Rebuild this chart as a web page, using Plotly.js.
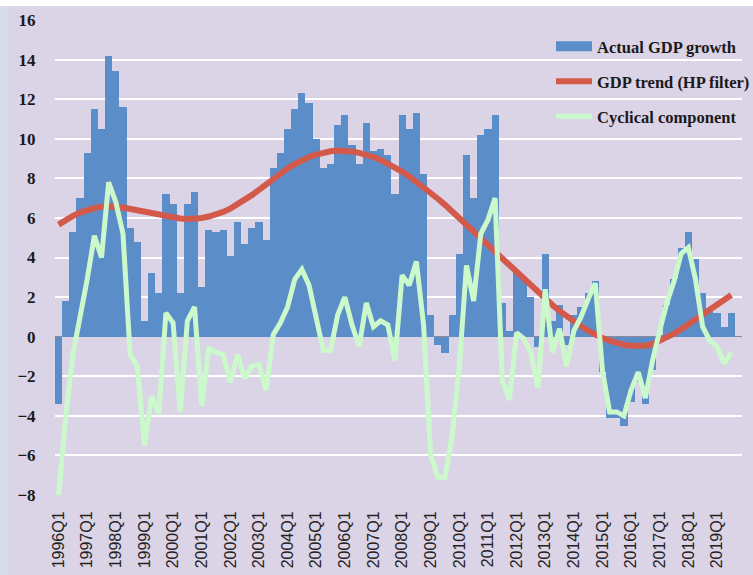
<!DOCTYPE html>
<html>
<head>
<meta charset="utf-8">
<script src="https://cdn.plot.ly/plotly-3.0.1.min.js"></script>
<style>
  html, body { margin: 0; padding: 0; background: #ffffff; overflow: hidden; width: 753px; height: 575px; }
  #frame { position: absolute; left: 0; top: 6px; width: 753px; height: 569px; background: #d6dde9; }
  #chart { position: absolute; left: 8px; top: 7px; width: 800px; height: 568px; }
</style>
</head>
<body>
<div id="frame"></div>
<div id="chart"></div>
<script>
// Quarter labels 1996Q1 .. 2019Q3
const quarters = [];
for (let y = 1996; y <= 2019; y++) {
  for (let q = 1; q <= 4; q++) {
    if (y === 2019 && q > 3) break;
    quarters.push(y + "Q" + q);
  }
}

// Actual GDP growth (bars)
const actualGrowth = [
  -3.4, 1.8, 5.3, 7.0, 9.3, 11.5, 10.5, 14.2, 13.4, 11.6, 5.5, 4.8,
  0.8, 3.2, 2.2, 7.2, 6.7, 2.2, 6.7, 7.3, 2.5, 5.4, 5.3, 5.4,
  4.1, 5.8, 4.7, 5.5, 5.8, 4.9, 8.5, 9.3, 10.5, 11.5, 12.3, 11.8,
  10.0, 8.5, 8.7, 10.7, 11.2, 9.7, 8.7, 10.8, 9.4, 9.5, 9.2, 7.2,
  11.2, 10.5, 11.3, 8.2, 1.1, -0.4, -0.8, 1.1, 4.2, 9.2, 7.0, 10.2,
  10.5, 11.2, 1.7, 0.3, 3.3, 2.9, 2.0, -0.5, 4.2, 0.8, 1.6, -0.4,
  1.1, 1.5, 2.2, 2.8, -1.8, -4.1, -4.1, -4.5, -3.3, -2.3, -3.4, -1.7,
  0.1, 1.6, 2.9, 4.5, 5.3, 3.9, 2.2, 1.4, 1.2, 0.5, 1.2
];

// GDP trend (HP filter)
const gdpTrend = [
  5.66, 5.90, 6.10, 6.27, 6.40, 6.50, 6.57, 6.60, 6.58, 6.53, 6.46, 6.38,
  6.30, 6.22, 6.14, 6.07, 6.01, 5.97, 5.95, 5.96, 6.00, 6.07, 6.17, 6.30,
  6.47, 6.67, 6.90, 7.15, 7.42, 7.70, 7.98, 8.25, 8.50, 8.72, 8.92, 9.08,
  9.20, 9.30, 9.37, 9.40, 9.40, 9.36, 9.29, 9.20, 9.08, 8.93, 8.76, 8.56,
  8.34, 8.10, 7.84, 7.56, 7.27, 6.97, 6.66, 6.34, 6.00, 5.66, 5.32, 4.97,
  4.63, 4.29, 3.95, 3.60, 3.25, 2.90, 2.55, 2.20, 1.90, 1.60, 1.30, 1.02,
  0.77, 0.53, 0.30, 0.10, -0.07, -0.20, -0.32, -0.41, -0.46, -0.48, -0.46, -0.38,
  -0.22, -0.05, 0.15, 0.38, 0.62, 0.86, 1.10, 1.35, 1.60, 1.85, 2.10
];

// Cyclical component
const cyclical = [
  -8.0, -4.0, -0.9, 0.9, 2.9, 5.1, 4.0, 7.8, 6.8, 5.2, -0.9, -1.5,
  -5.5, -3.0, -3.9, 1.2, 0.7, -3.8, 0.8, 1.5, -3.5, -0.6, -0.8, -0.9,
  -2.3, -0.9, -2.1, -1.5, -1.4, -2.7, 0.1, 0.7, 1.5, 2.9, 3.4, 2.6,
  0.8, -0.7, -0.7, 1.1, 2.0, 0.6, -0.5, 1.7, 0.5, 0.8, 0.6, -1.2,
  3.1, 2.6, 3.8, 0.6, -6.0, -7.1, -7.1, -5.0, -1.5, 3.6, 1.8, 5.2,
  5.9, 7.0, -2.2, -3.2, 0.2, -0.1, -0.8, -2.6, 2.4, -0.8, 0.4, -1.5,
  0.3, 1.0, 1.9, 2.7, -1.7, -3.8, -3.8, -4.0, -2.7, -1.8, -3.1, -1.2,
  0.3, 1.7, 2.8, 4.2, 4.5, 2.9, 0.5, -0.2, -0.5, -1.35, -0.8
];

const seriesNames = ["Actual GDP growth", "GDP trend (HP filter)", "Cyclical component"];
const colBar = "#5b8ec8", colTrend = "#d35a4a", colCycle = "#ccf9cc";

const q1Ticks = quarters.filter(q => q.endsWith("Q1"));

const traces = [
  { type: "bar", x: quarters, y: actualGrowth, name: seriesNames[0],
    marker: { color: colBar, line: { width: 0 } }, showlegend: false, hoverinfo: "x+y" },
  { type: "scatter", mode: "lines", x: quarters, y: gdpTrend, name: seriesNames[1],
    line: { color: colTrend, width: 6 }, showlegend: false },
  { type: "scatter", mode: "lines", x: quarters, y: cyclical, name: seriesNames[2],
    line: { color: colCycle, width: 5 }, showlegend: false },
  // legend proxies (styled like the reference's wide legend keys)
  { type: "scatter", mode: "lines", x: [null], y: [null], name: seriesNames[0],
    line: { color: colBar, width: 10 }, legendgroup: "a" },
  { type: "scatter", mode: "lines", x: [null], y: [null], name: seriesNames[1],
    line: { color: colTrend, width: 6 }, legendgroup: "b" },
  { type: "scatter", mode: "lines", x: [null], y: [null], name: seriesNames[2],
    line: { color: colCycle, width: 5 }, legendgroup: "c" }
];

const bg = "#dbd3e6";
const layout = {
  width: 800, height: 568,
  margin: { l: 47, r: 66, t: 13, b: 80, pad: 0 },
  paper_bgcolor: bg, plot_bgcolor: bg,
  bargap: 0,
  showlegend: true,
  legend: {
    x: 0.722, xanchor: "left", y: 0.981, yanchor: "top",
    bgcolor: "rgba(0,0,0,0)", borderwidth: 0,
    font: { family: "Liberation Serif, DejaVu Serif, serif", size: 16.5, color: "#1a1a1a", weight: "bold" },
    itemwidth: 36, tracegroupgap: 10.5, traceorder: "grouped"
  },
  xaxis: {
    type: "category", range: [-0.5, 95.5],
    tickmode: "array", tickvals: q1Ticks, ticktext: q1Ticks,
    tickangle: -90, ticks: "outside", ticklen: 9, tickcolor: "rgba(0,0,0,0)",
    tickfont: { family: "Liberation Sans, Arial, sans-serif", size: 16, color: "#222" },
    showgrid: false, showline: false, zeroline: false, fixedrange: true
  },
  yaxis: {
    range: [-8, 16], dtick: 2, tick0: 0,
    ticks: "outside", ticklen: 15, tickcolor: "rgba(0,0,0,0)",
    tickfont: { family: "Liberation Serif, DejaVu Serif, serif", size: 17, color: "#1a1a1a", weight: "bold" },
    gridcolor: "#ffffff", gridwidth: 2,
    zeroline: true, zerolinecolor: "#8e8a96", zerolinewidth: 1.5,
    showline: false, fixedrange: true
  }
};

Plotly.newPlot("chart", traces, layout, { displayModeBar: false, staticPlot: true });
</script>
</body>
</html>
